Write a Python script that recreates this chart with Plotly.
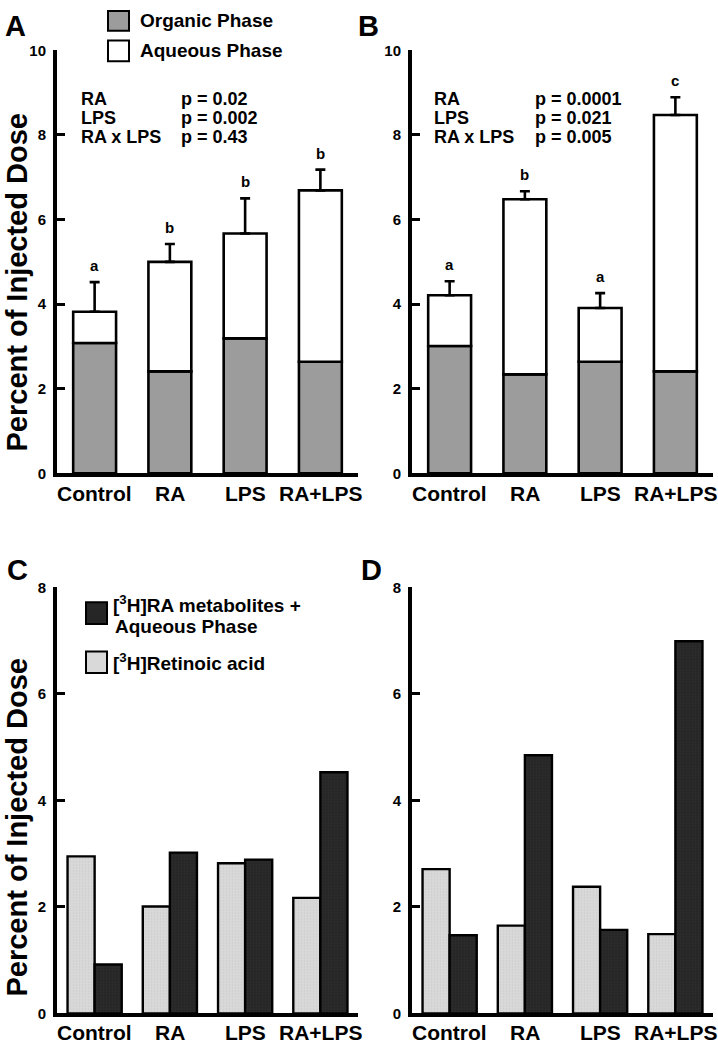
import plotly.graph_objects as go

W, H = 718, 1050
FONT = "Liberation Sans, Arial, Helvetica, sans-serif"

categories = ["Control", "RA", "LPS", "RA+LPS"]

# Panel A: organic phase and total (organic + aqueous), SEM of total
a_organic = [3.08, 2.41, 3.19, 2.64]
a_total = [3.82, 5.00, 5.67, 6.69]
a_err = [0.70, 0.42, 0.83, 0.49]
a_letters = ["a", "b", "b", "b"]

# Panel B
b_organic = [3.01, 2.34, 2.64, 2.41]
b_total = [4.21, 6.48, 3.91, 8.47]
b_err = [0.33, 0.19, 0.35, 0.42]
b_letters = ["a", "b", "a", "c"]

# Panel C: [3H]retinoic acid vs metabolites + aqueous
c_ra = [2.95, 2.01, 2.82, 2.17]
c_metab = [0.92, 3.02, 2.89, 4.53]

# Panel D
d_ra = [2.71, 1.65, 2.38, 1.49]
d_metab = [1.47, 4.85, 1.57, 6.99]

a_stats = [("RA", "p = 0.02"), ("LPS", "p = 0.002"), ("RA x LPS", "p = 0.43")]
b_stats = [("RA", "p = 0.0001"), ("LPS", "p = 0.021"), ("RA x LPS", "p = 0.005")]

ORG = "#9c9c9c"
AQ = "#ffffff"
LIGHT = "#d9d9d9"
DARK = "#262626"


def px(x):
    return x / W


def py(y):
    return 1 - y / H


fig = go.Figure()

# ---- stacked panels A, B ----
for (org, tot, err, ax) in [(a_organic, a_total, a_err, ""), (b_organic, b_total, b_err, "2")]:
    aq = [t - o for t, o in zip(tot, org)]
    fig.add_trace(go.Bar(
        x=categories, y=org, width=0.57,
        marker=dict(color=ORG, line=dict(color="black", width=2.6)),
        xaxis="x" + ax, yaxis="y" + ax, showlegend=False))
    fig.add_trace(go.Bar(
        x=categories, y=aq, base=org, width=0.57,
        marker=dict(color=AQ, line=dict(color="black", width=2.6)),
        error_y=dict(type="data", array=err, arrayminus=[0] * len(err), symmetric=False,
                     color="black", thickness=2.6, width=5),
        xaxis="x" + ax, yaxis="y" + ax, showlegend=False))

# ---- grouped panels C, D ----
for (ra, met, ax) in [(c_ra, c_metab, "3"), (d_ra, d_metab, "4")]:
    fig.add_trace(go.Bar(
        x=categories, y=ra, width=0.36, offset=-0.36,
        marker=dict(color=LIGHT, line=dict(color="black", width=2.4),
                    pattern=dict(shape=".", fgcolor="#bdbdbd", bgcolor=LIGHT, size=3, solidity=0.25)),
        xaxis="x" + ax, yaxis="y" + ax, showlegend=False))
    fig.add_trace(go.Bar(
        x=categories, y=met, width=0.36, offset=0.0,
        marker=dict(color=DARK, line=dict(color="black", width=2.4),
                    pattern=dict(shape=".", fgcolor="#3a3a3a", bgcolor=DARK, size=3, solidity=0.25)),
        xaxis="x" + ax, yaxis="y" + ax, showlegend=False))

xdomA = [px(57), px(358)]
xdomB = [px(412), px(713)]
ydomTop = [py(472), py(42)]
ydomBot = [py(1021), py(588)]

xcommon = dict(range=[-0.5, 3.5], showline=True, linewidth=4, linecolor="black",
               ticks="", showgrid=False, zeroline=False, fixedrange=True,
               showticklabels=False)
ycommon = dict(showline=True, linewidth=4, linecolor="black", ticks="inside",
               ticklen=8, tickwidth=3, tickcolor="black", showgrid=False,
               zeroline=False, fixedrange=True, ticklabelstandoff=4,
               tickfont=dict(family=FONT, size=15, color="black", weight="bold"))

fig.update_layout(
    width=W, height=H, autosize=False,
    margin=dict(l=0, r=0, t=0, b=0),
    paper_bgcolor="white", plot_bgcolor="white",
    barmode="overlay", showlegend=False,
    font=dict(family=FONT, color="black"),
    xaxis=dict(domain=xdomA, anchor="y", **xcommon),
    yaxis=dict(domain=ydomTop, anchor="x", range=[0, 10], tickvals=[0, 2, 4, 6, 8, 10], **ycommon),
    xaxis2=dict(domain=xdomB, anchor="y2", **xcommon),
    yaxis2=dict(domain=ydomTop, anchor="x2", range=[0, 10], tickvals=[0, 2, 4, 6, 8, 10], **ycommon),
    xaxis3=dict(domain=xdomA, anchor="y3", **xcommon),
    yaxis3=dict(domain=ydomBot, anchor="x3", range=[0, 8], tickvals=[0, 2, 4, 6, 8], **ycommon),
    xaxis4=dict(domain=xdomB, anchor="y4", **xcommon),
    yaxis4=dict(domain=ydomBot, anchor="x4", range=[0, 8], tickvals=[0, 2, 4, 6, 8], **ycommon),
)

ann = []
shapes = []


def text(x, y, s, size, xanchor="left", yanchor="middle", angle=0):
    ann.append(dict(x=px(x), y=py(y), xref="paper", yref="paper", text=s, showarrow=False,
                    xanchor=xanchor, yanchor=yanchor, textangle=angle,
                    font=dict(family=FONT, size=size, color="black", weight="bold")))


# category labels under each panel
for ax, ylab in [("", 492), ("2", 492), ("3", 1040), ("4", 1040)]:
    for c in categories:
        ann.append(dict(x=c, xref="x" + ax, y=py(ylab), yref="paper", text=c, showarrow=False,
                        xanchor="center", yanchor="middle",
                        font=dict(family=FONT, size=21, color="black", weight="bold")))

# panel letters
text(15, 17, "A", 29, xanchor="center")
text(368, 17, "B", 29, xanchor="center")
text(17, 570, "C", 29, xanchor="center")
text(372, 570, "D", 29, xanchor="center")

# y titles
text(17, 278, "Percent of Injected Dose", 29, xanchor="center", angle=-90)
text(17, 832, "Percent of Injected Dose", 29, xanchor="center", angle=-90)

# stats text
rows_y = [91, 111, 130]
for (lab, p), yy in zip(a_stats, rows_y):
    text(79, yy, lab, 18)
    text(179, yy, p, 18)
for (lab, p), yy in zip(b_stats, rows_y):
    text(432, yy, lab, 18)
    text(533, yy, p, 18)

# significance letters
for (tot, err, letters, ax) in [(a_total, a_err, a_letters, ""), (b_total, b_err, b_letters, "2")]:
    for c, t, e, l in zip(categories, tot, err, letters):
        ann.append(dict(x=c, y=t + e, xref="x" + ax, yref="y" + ax, text=l, showarrow=False,
                        yanchor="bottom", yshift=6,
                        font=dict(family=FONT, size=15, color="black", weight="bold")))


def box(x0, y0, x1, y1, color):
    shapes.append(dict(type="rect", xref="paper", yref="paper",
                       x0=px(x0), x1=px(x1), y0=py(y1), y1=py(y0),
                       fillcolor=color, line=dict(color="black", width=2)))


# legend A
box(108, 2, 129, 22, ORG)
text(138, 12, "Organic Phase", 19)
box(108, 32, 129, 53, AQ)
text(138, 42, "Aqueous Phase", 19)

# legend C
box(86, 603, 107, 625, DARK)
text(111, 605, "[<sup>3</sup>H]RA metabolites +", 19)
text(113, 628, "Aqueous Phase", 19)
box(86, 653, 107, 675, LIGHT)
text(111, 664, "[<sup>3</sup>H]Retinoic acid", 19)

fig.update_layout(annotations=ann, shapes=shapes)

fig.write_html("out.html", config={"displayModeBar": False},
               post_script="document.body.style.margin='0';")
